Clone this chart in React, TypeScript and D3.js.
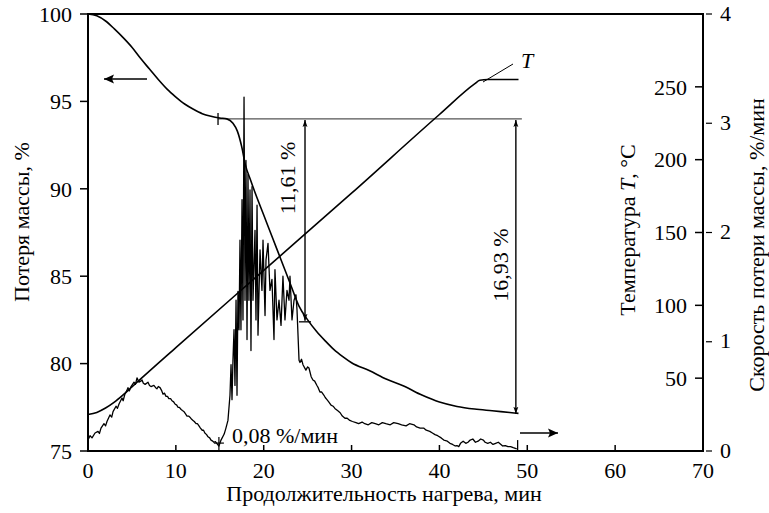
import React from 'react';
import * as d3 from 'd3';

const timeTicks = [0, 10, 20, 30, 40, 50, 60, 70];
const massTicks = [75, 80, 85, 90, 95, 100];
const tempTicks = [50, 100, 150, 200, 250];
const rateTicks = [0, 1, 2, 3, 4];

// mass loss curve, % (left axis)
const massCurve: [number, number][] = [
  [0, 100], [1, 99.9], [2, 99.6], [3, 99.15], [4, 98.65], [5, 98.1], [6, 97.45], [7, 96.85],
  [8, 96.25], [9, 95.7], [10, 95.25], [11, 94.85], [12, 94.55], [13, 94.3], [14, 94.15],
  [15, 94.05], [15.8, 94.0], [16.5, 93.75], [17, 93.3], [17.5, 92.4], [17.9, 91.4], [18.5, 90.5],
  [19, 89.8], [20, 88.5], [21, 87.2], [22, 85.9], [23, 84.6], [24, 83.3], [25, 82.5], [26, 81.85],
  [27, 81.3], [28, 80.8], [29, 80.4], [30, 80.05], [32, 79.6], [34, 79.1], [36, 78.7], [38, 78.2],
  [40, 77.8], [42, 77.55], [44, 77.4], [46, 77.3], [48, 77.2], [49, 77.15],
];

// temperature, °C (right inner axis)
const tempCurve: [number, number][] = [
  [0, 25], [1, 26.5], [2, 29.5], [3, 33.5], [4, 38.5], [5, 44], [6, 49.5], [10, 71], [20, 124],
  [30, 177], [40, 231], [44, 252], [44.6, 254.5], [45.5, 255], [49, 255],
];

// mass loss rate, %/min (right outer axis)
const rateCurve: [number, number][] = [
  [0, 0.10], [0.23, 0.14], [0.46, 0.12], [0.8, 0.165], [1.14, 0.18], [1.3, 0.16], [1.48, 0.21], [1.82, 0.25],
  [2.0, 0.23], [2.16, 0.27], [2.5, 0.33], [2.7, 0.31], [2.85, 0.36], [3.19, 0.41], [3.35, 0.39], [3.53, 0.43],
  [3.87, 0.485], [4.0, 0.46], [4.2, 0.52], [4.4, 0.55], [4.55, 0.58], [4.7, 0.55], [4.9, 0.59],
  [5.24, 0.63], [5.4, 0.61], [5.58, 0.67], [5.8, 0.63], [6.0, 0.64], [6.15, 0.65], [6.3, 0.62], [6.5, 0.61],
  [6.83, 0.63], [7.0, 0.6], [7.17, 0.59], [7.5, 0.6], [7.7, 0.58], [7.85, 0.57], [8.0, 0.59], [8.2, 0.58],
  [8.4, 0.55], [8.54, 0.52], [8.7, 0.53], [8.88, 0.5], [9.05, 0.5], [9.2, 0.48], [9.4, 0.48], [9.56, 0.46],
  [9.75, 0.45], [9.9, 0.43], [10.1, 0.42], [10.24, 0.4], [10.4, 0.4], [10.6, 0.38], [10.75, 0.37],
  [10.93, 0.36], [11.1, 0.34], [11.27, 0.32], [11.45, 0.32], [11.6, 0.31], [11.8, 0.29], [11.95, 0.28],
  [12.1, 0.27], [12.3, 0.25], [12.45, 0.25], [12.63, 0.23], [12.8, 0.21], [13.0, 0.19], [13.15, 0.19],
  [13.3, 0.165], [13.5, 0.15], [13.66, 0.13], [13.85, 0.12], [14.0, 0.1], [14.2, 0.09], [14.34, 0.08],
  [14.5, 0.085], [14.7, 0.065], [14.9, 0.045], [15.14, 0.1], [15.5, 0.155], [15.7, 0.21], [15.93, 0.28],
  [16.16, 0.51], [16.28, 0.79], [16.39, 0.47], [16.5, 0.83], [16.62, 1.11], [16.73, 0.6], [16.85, 1.38],
  [16.96, 0.51], [17.07, 1.46], [17.19, 1.11], [17.3, 1.93], [17.41, 1.11], [17.53, 2.3], [17.64, 1.2],
  [17.76, 3.24], [17.87, 1.38], [17.98, 2.66], [18.1, 1.02], [18.21, 2.53], [18.32, 1.38], [18.44, 2.39],
  [18.55, 0.92], [18.67, 2.42], [18.78, 1.38], [19.01, 2.02], [19.12, 1.2], [19.24, 2.25], [19.35, 1.06],
  [19.58, 1.84], [19.8, 1.47], [19.92, 1.93], [20.15, 1.24], [20.26, 1.75], [20.49, 1.9], [20.71, 1.47],
  [20.94, 1.57], [21.17, 1.02], [21.28, 1.66], [21.51, 1.2], [21.74, 1.38], [21.97, 1.15], [22.19, 1.6],
  [22.42, 1.2], [22.65, 1.47], [22.88, 1.38], [22.99, 1.6], [23.22, 1.2], [23.45, 1.38], [23.67, 1.43],
  [23.79, 1.29], [24.02, 0.83], [24.13, 0.81], [24.3, 0.84], [24.47, 0.79], [24.8, 0.74], [25.0, 0.77],
  [25.15, 0.76], [25.4, 0.68], [25.6, 0.65], [25.8, 0.64], [26.06, 0.6], [26.2, 0.58], [26.4, 0.54],
  [26.6, 0.54], [26.86, 0.51], [27.0, 0.49], [27.2, 0.47], [27.4, 0.45], [27.66, 0.42], [27.9, 0.41],
  [28.1, 0.39], [28.4, 0.37], [28.7, 0.35], [28.95, 0.32], [29.25, 0.3], [29.5, 0.3], [29.8, 0.28],
  [30.1, 0.27], [30.5, 0.26], [30.8, 0.25], [31.2, 0.265], [31.5, 0.25], [31.9, 0.24], [32.3, 0.26],
  [32.7, 0.25], [33.1, 0.24], [33.5, 0.26], [33.9, 0.25], [34.4, 0.24], [34.8, 0.26], [35.3, 0.25],
  [35.7, 0.24], [36.2, 0.23], [36.6, 0.25], [37.1, 0.24], [37.4, 0.22], [37.8, 0.21], [38.2, 0.21],
  [38.5, 0.19], [38.9, 0.18], [39.2, 0.165], [39.5, 0.15], [39.8, 0.14], [40.2, 0.12], [40.5, 0.1],
  [40.9, 0.09], [41.2, 0.07], [41.5, 0.06], [41.8, 0.046], [42.0, 0.05], [42.2, 0.04], [42.4, 0.07],
  [42.7, 0.09], [43.0, 0.07], [43.25, 0.08], [43.5, 0.1], [43.8, 0.11], [44.1, 0.08], [44.4, 0.09],
  [44.7, 0.11], [45.0, 0.1], [45.2, 0.08], [45.5, 0.07], [45.8, 0.08], [46.1, 0.06], [46.4, 0.07],
  [46.7, 0.08], [47.0, 0.06], [47.2, 0.046], [47.5, 0.05], [47.8, 0.04], [48.1, 0.04], [48.4, 0.03],
  [48.8, 0.02],
];

const plateauMass = 94.0;
const plateauStart = 14.8;
const lossA = 11.61;
const lossB = 16.93;
const lossATime = 24.7;
const lossBTime = 48.7;
const minRateTime = 14.9;
const minRate = 0.045;

const FONT = "'Liberation Serif', 'DejaVu Serif', 'Times New Roman', serif";
const FS = 22;

export default function App() {
  const x = d3.scaleLinear([0, 70], [88, 703]);
  const yM = d3.scaleLinear([75, 100], [451, 14]);
  const yT = d3.scaleLinear([0, 300], [451, 14]);
  const yR = d3.scaleLinear([0, 4], [451, 14]);

  const massLine = d3.line<[number, number]>().x(d => x(d[0])).y(d => yM(d[1])).curve(d3.curveMonotoneX);
  const tempLine = d3.line<[number, number]>().x(d => x(d[0])).y(d => yT(d[1])).curve(d3.curveMonotoneX);
  const rateLine = d3.line<[number, number]>().x(d => x(d[0])).y(d => yR(d[1]));

  const [x0, x1] = x.range();
  const [yb, yt] = yM.range();

  const ax = x(lossATime);
  const bx = x(lossBTime);
  const py = yM(plateauMass);

  return (
    <div style={{ position: 'fixed', left: 0, top: 0 }}>
      <svg width={769} height={513} style={{ display: 'block', background: '#fff' }}>
        <defs>
          <marker id="ah" viewBox="0 0 10 10" refX="10" refY="5" markerWidth="7" markerHeight="12" orient="auto-start-reverse" markerUnits="userSpaceOnUse">
            <path d="M0,1.5 L10,5 L0,8.5 L2,5 Z" fill="#000" />
          </marker>
          <marker id="ah2" viewBox="0 0 10 10" refX="10" refY="5" markerWidth="14" markerHeight="10" orient="auto-start-reverse" markerUnits="userSpaceOnUse">
            <path d="M0,0.5 L10,5 L0,9.5 L2,5 Z" fill="#000" />
          </marker>
        </defs>

        {/* frame */}
        <rect x={x0} y={yt} width={x1 - x0} height={yb - yt} fill="none" stroke="#000" strokeWidth={2} />

        <g style={{ fontFamily: FONT, fontSize: FS }}>
          {/* bottom ticks */}
          {timeTicks.map(t => (
            <g key={'xt' + t}>
              <line x1={x(t)} x2={x(t)} y1={yb} y2={yb - 6} stroke="#000" strokeWidth={1.5} />
              <text x={x(t)} y={yb + 27} textAnchor="middle">{t}</text>
            </g>
          ))}
          {/* left ticks */}
          {massTicks.map(v => (
            <g key={'ym' + v}>
              <line x1={x0 - 8} x2={x0} y1={yM(v)} y2={yM(v)} stroke="#000" strokeWidth={1.5} />
              <text x={x0 - 16} y={yM(v)} dy="0.35em" textAnchor="end">{v}</text>
            </g>
          ))}
          {/* right temperature ticks */}
          {tempTicks.map(v => (
            <g key={'yt' + v}>
              <line x1={x1 - 8} x2={x1} y1={yT(v)} y2={yT(v)} stroke="#000" strokeWidth={1.5} />
              <text x={x1 - 16} y={yT(v)} dy="0.35em" textAnchor="end">{v}</text>
            </g>
          ))}
          {/* right rate ticks */}
          {rateTicks.map(v => (
            <g key={'yr' + v}>
              <line x1={x1 + 3} x2={x1 + 9} y1={yR(v)} y2={yR(v)} stroke="#000" strokeWidth={1.2} />
              <text x={x1 + 17} y={yR(v)} dy="0.3em" textAnchor="start">{v}</text>
            </g>
          ))}

          {/* axis titles */}
          <text x={384} y={501} textAnchor="middle">Продолжительность нагрева, мин</text>
          <text transform="translate(21,222) rotate(-90)" textAnchor="middle" dy="0.35em">Потеря массы, %</text>
          <text transform="translate(627,230) rotate(-90)" textAnchor="middle" dy="0.35em">
            Температура <tspan fontStyle="italic">T</tspan>, °C
          </text>
          <text transform="translate(756,245) rotate(-90)" textAnchor="middle" dy="0.35em">Скорость потери массы, %/мин</text>

          <text transform={`translate(${ax - 18},178) rotate(-90)`} textAnchor="middle" dy="0.35em">11,61 %</text>
          <text transform={`translate(${bx - 16},265) rotate(-90)`} textAnchor="middle" dy="0.35em">16,93 %</text>
          <text x={232} y={443}>0,08 %/мин</text>
          <text x={521} y={68} fontStyle="italic">T</text>
        </g>

        {/* plateau reference line */}
        <line x1={x(plateauStart)} x2={bx + 6} y1={py} y2={py} stroke="#555" strokeWidth={1.1} />

        {/* curves */}
        <path d={tempLine(tempCurve) || ''} fill="none" stroke="#000" strokeWidth={1.6} />
        <path d={rateLine(rateCurve) || ''} fill="none" stroke="#000" strokeWidth={1.3} strokeLinejoin="round" />
        <path d={massLine(massCurve) || ''} fill="none" stroke="#000" strokeWidth={1.6} />

        {/* tick marks on curves */}
        <line x1={x(plateauStart)} x2={x(plateauStart)} y1={py - 6} y2={py + 6} stroke="#000" strokeWidth={1.3} />
        <line x1={ax - 6} x2={ax + 6} y1={yM(plateauMass - lossA)} y2={yM(plateauMass - lossA)} stroke="#000" strokeWidth={1.3} />
        <line x1={x(minRateTime) - 5} x2={x(minRateTime) + 5} y1={yR(minRate) - 3} y2={yR(minRate) - 3} stroke="#000" strokeWidth={1.2} />
        <line x1={x(minRateTime)} x2={x(minRateTime)} y1={yR(minRate) - 9} y2={yR(minRate) + 5} stroke="#000" strokeWidth={1.2} />
        <line x1={x(48.9)} x2={x(48.9)} y1={yR(0.1)} y2={yb} stroke="#000" strokeWidth={1.3} />

        {/* dimension arrows */}
        <line x1={ax} x2={ax} y1={py + 1} y2={yM(plateauMass - lossA) - 1} stroke="#000" strokeWidth={1.4} markerStart="url(#ah)" markerEnd="url(#ah)" />
        <line x1={bx} x2={bx} y1={py + 1} y2={yM(plateauMass - lossB) - 1} stroke="#000" strokeWidth={1.4} markerStart="url(#ah)" markerEnd="url(#ah)" />

        {/* direction arrows */}
        <line x1={147} x2={104} y1={79} y2={79} stroke="#000" strokeWidth={1.5} markerEnd="url(#ah2)" />
        <line x1={520} x2={558} y1={433} y2={433} stroke="#000" strokeWidth={1.5} markerEnd="url(#ah2)" />

        <line x1={483} x2={513} y1={82} y2={64} stroke="#000" strokeWidth={1} />
      </svg>
    </div>
  );
}
